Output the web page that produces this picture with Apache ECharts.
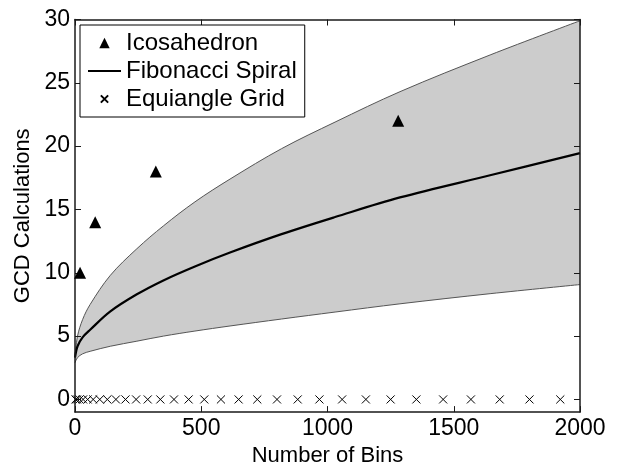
<!DOCTYPE html>
<html>
<head>
<meta charset="utf-8">
<script src="https://cdn.jsdelivr.net/npm/echarts@6/dist/echarts.min.js"></script>
<style>
  html, body { margin: 0; padding: 0; background: #fff; }
  #chart { width: 617px; height: 472px; }
</style>
</head>
<body>
<div id="chart"></div>
<script>
// values
const bandX = [0, 10, 30, 60, 140, 245, 350, 475, 614, 818, 1030, 1287, 1644, 2000]
const upperY = [3.4, 5.0, 6.3, 7.5, 9.8, 11.9, 13.7, 15.6, 17.4, 19.8, 21.9, 24.3, 27.2, 29.9]
const lowerY = [2.9, 3.3, 3.6, 3.8, 4.2, 4.6, 5.0, 5.4, 5.8, 6.35, 6.9, 7.55, 8.35, 9.07]
const fibY = [3.3, 4.2, 4.9, 5.5, 6.95, 8.3, 9.4, 10.5, 11.6, 13.05, 14.4, 15.95, 17.7, 19.45]

const icoX = [20, 80, 320, 1280]
const icoY = [10, 14, 18, 22]

const gridX = [2, 8, 18, 32, 50, 72, 98, 128, 162, 200, 242, 288, 338, 392, 450, 512,
  578, 648, 722, 800, 882, 968, 1058, 1152, 1250, 1352, 1458, 1568, 1682, 1800, 1922]
const gridY = gridX.map(() => 0)

const yTicks = [0, 5, 10, 15, 20, 25, 30]

const font = 'Liberation Sans, Arial, Helvetica, sans-serif'
const axisColor = '#1a1a1a'
// x mark with some empty room round it, so the legend copy comes out smaller
const crossPath = 'path://M0,0L0,0M1.5,1.5L8.5,8.5M1.5,8.5L8.5,1.5M10,10L10,10'

const pairs = (xs, ys) => xs.map((x, i) => [x, ys[i]])

const chart = echarts.init(document.getElementById('chart'))

const xBase = {
  type: 'value',
  min: 0,
  max: 2000,
  interval: 500,
  z: 3,
  splitLine: { show: false },
  axisLine: { onZero: false, lineStyle: { color: axisColor, width: 1.5 } },
  axisTick: { inside: true, length: 6, lineStyle: { color: axisColor, width: 1 } },
}
const yBase = {
  type: 'value',
  min: -1,
  max: 30,
  z: 3,
  splitLine: { show: false },
  axisLine: { onZero: false, lineStyle: { color: axisColor, width: 1.5 } },
  axisTick: { inside: true, length: 6, customValues: yTicks, lineStyle: { color: axisColor, width: 1 } },
}

const options = {
  animation: false,
  backgroundColor: '#fff',
  textStyle: { fontFamily: font },
  grid: { left: 75, right: 37, top: 19.5, bottom: 58, containLabel: false },
  legend: {
    orient: 'vertical',
    left: 80,
    top: 25,
    z: 10,
    data: ['Icosahedron', 'Fibonacci Spiral', 'Equiangle Grid'],
    backgroundColor: '#fff',
    borderColor: '#000',
    borderWidth: 1,
    borderRadius: 0,
    padding: [6, 8, 6, 7],
    itemGap: 4,
    itemWidth: 33,
    itemHeight: 13,
    selectedMode: false,
    textStyle: { fontSize: 24, color: '#000', fontFamily: font },
  },
  xAxis: [
    {
      ...xBase,
      position: 'bottom',
      name: 'Number of Bins',
      nameLocation: 'middle',
      nameGap: 27,
      nameTextStyle: { fontSize: 22, color: '#000', fontFamily: font },
      axisLabel: { fontSize: 23, color: '#000', margin: 5, fontFamily: font, formatter: (v) => String(v) },
    },
    { ...xBase, position: 'top', axisLabel: { show: false } },
  ],
  yAxis: [
    {
      ...yBase,
      position: 'left',
      name: 'GCD Calculations',
      nameLocation: 'middle',
      nameGap: 39,
      nameTextStyle: { fontSize: 22, color: '#000', fontFamily: font },
      axisLabel: { customValues: yTicks, fontSize: 23, color: '#000', margin: 5, fontFamily: font },
    },
    { ...yBase, position: 'right', axisLabel: { show: false } },
  ],
  series: [
    {
      name: 'upper',
      type: 'line',
      smooth: 0.35,
      symbol: 'none',
      data: pairs(bandX, upperY),
      lineStyle: { color: '#555', width: 1 },
      areaStyle: { color: '#cccccc', opacity: 1, origin: 'start' },
      z: 1,
    },
    {
      name: 'lower',
      type: 'line',
      smooth: 0.35,
      symbol: 'none',
      data: pairs(bandX, lowerY),
      lineStyle: { color: '#555', width: 1 },
      areaStyle: { color: '#ffffff', opacity: 1, origin: 'start' },
      z: 1.5,
    },
    {
      name: 'Fibonacci Spiral',
      type: 'line',
      smooth: 0.35,
      symbol: 'none',
      data: pairs(bandX, fibY),
      lineStyle: { color: '#000', width: 2.2 },
      itemStyle: { color: 'rgba(0,0,0,0)' },
      z: 2,
    },
    {
      name: 'Icosahedron',
      type: 'line',
      symbol: 'triangle',
      symbolSize: 12,
      showSymbol: true,
      showAllSymbol: true,
      data: pairs(icoX, icoY),
      lineStyle: { width: 0, color: 'transparent' },
      itemStyle: { color: '#000', borderColor: '#000', borderWidth: 0 },
      z: 4,
    },
    {
      name: 'Equiangle Grid',
      type: 'line',
      symbol: crossPath,
      symbolSize: 11.5,
      showSymbol: true,
      showAllSymbol: true,
      data: pairs(gridX, gridY),
      lineStyle: { width: 0, color: 'transparent' },
      itemStyle: { color: '#000', borderColor: '#000', borderWidth: 1 },
      z: 4,
    },
  ],
}

chart.setOption(options)
</script>
</body>
</html>
